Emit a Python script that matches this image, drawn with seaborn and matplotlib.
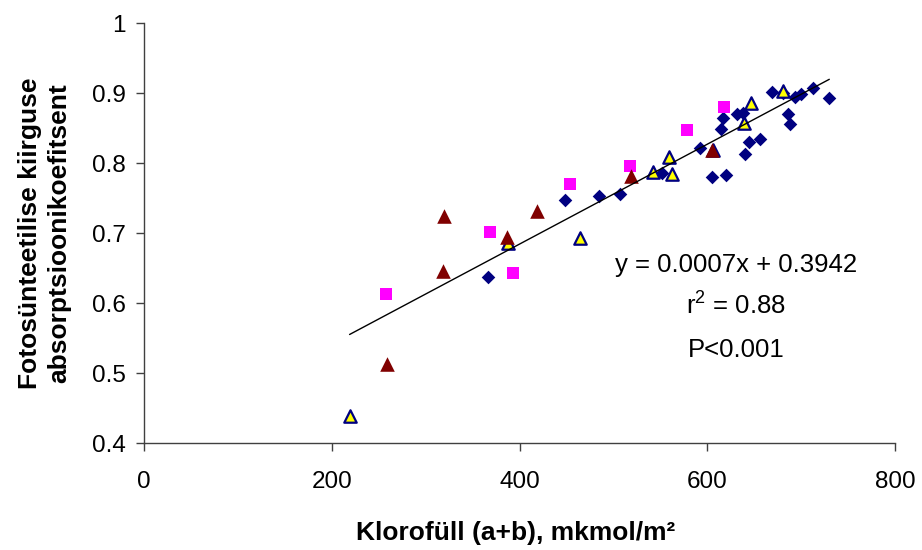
import matplotlib
matplotlib.use("Agg")
import matplotlib.pyplot as plt
import seaborn as sns
import pandas as pd
import numpy as np
from matplotlib.ticker import FuncFormatter, FixedLocator

# ---- data ----
navy_x = [366, 449, 485, 507, 552, 592, 605, 620, 615, 617, 632, 638, 640, 644, 656,
          669, 681, 686, 688, 694, 700, 713, 730]
navy_y = [0.637, 0.747, 0.753, 0.756, 0.786, 0.821, 0.780, 0.783, 0.849, 0.864, 0.870, 0.872,
          0.813, 0.830, 0.834, 0.901, 0.900, 0.870, 0.856, 0.894, 0.898, 0.907, 0.893]

yellow_x = [219, 388, 464, 542, 559, 562, 606, 639, 647, 681]
yellow_y = [0.439, 0.685, 0.693, 0.787, 0.809, 0.784, 0.818, 0.857, 0.886, 0.903]

magenta_x = [258, 369, 393, 454, 518, 578, 618]
magenta_y = [0.613, 0.701, 0.643, 0.770, 0.796, 0.847, 0.880]

maroon_x = [259, 318, 320, 387, 419, 519, 605]
maroon_y = [0.513, 0.646, 0.725, 0.694, 0.732, 0.782, 0.818]

x_ticks = [0, 200, 400, 600, 800]
y_ticks = [0.4, 0.5, 0.6, 0.7, 0.8, 0.9, 1.0]

x_label = "Klorofüll (a+b), mkmol/m²"
y_label = "Fotosünteetilise kiirguse\nabsorptsioonikoefitsent"
eq_text = "y = 0.0007x + 0.3942"
r2_text = "r$^2$ = 0.88"
p_text = "P<0.001"

# ---- style ----
sns.set_theme(style="white")
plt.rcParams["font.family"] = ["Liberation Sans", "DejaVu Sans"]
plt.rcParams["mathtext.fontset"] = "custom"
plt.rcParams["mathtext.rm"] = "Liberation Sans"
plt.rcParams["text.color"] = "black"
plt.rcParams["axes.labelcolor"] = "black"

fig = plt.figure(figsize=(9.22, 5.5), dpi=100)
ax = fig.add_axes([144 / 922, 1 - 443 / 550, 751 / 922, 420 / 550])

df_navy = pd.DataFrame({"x": navy_x, "y": navy_y})
df_yellow = pd.DataFrame({"x": yellow_x, "y": yellow_y})
df_mag = pd.DataFrame({"x": magenta_x, "y": magenta_y})
df_mar = pd.DataFrame({"x": maroon_x, "y": maroon_y})
df_all = pd.concat([df_navy, df_yellow, df_mag, df_mar], ignore_index=True)

sns.scatterplot(data=df_navy, x="x", y="y", ax=ax, marker="D", s=48,
                color="#000080", edgecolor="#000080", linewidth=0, zorder=3)
sns.scatterplot(data=df_yellow, x="x", y="y", ax=ax, marker="^", s=80,
                color="#FFFF00", edgecolor="#000080", linewidth=1.6, zorder=4)
sns.scatterplot(data=df_mag, x="x", y="y", ax=ax, marker="s", s=75,
                color="#FF00FF", edgecolor="#FF00FF", linewidth=0, zorder=5)
sns.scatterplot(data=df_mar, x="x", y="y", ax=ax, marker="^", s=110,
                color="#800000", edgecolor="#800000", linewidth=0, zorder=6)

sns.regplot(data=df_all, x="x", y="y", ax=ax, scatter=False, ci=None,
            line_kws=dict(color="black", linewidth=1.0, zorder=7))

# ---- axes ----
ax.set_xlim(0, 800)
ax.set_ylim(0.4, 1.0)
ax.xaxis.set_major_locator(FixedLocator(x_ticks))
ax.yaxis.set_major_locator(FixedLocator(y_ticks))
ax.yaxis.set_major_formatter(FuncFormatter(lambda v, p: f"{v:g}"))
ax.xaxis.set_major_formatter(FuncFormatter(lambda v, p: f"{v:g}"))

for side in ["top", "right"]:
    ax.spines[side].set_visible(False)
for side in ["left", "bottom"]:
    ax.spines[side].set_color("#404040")
    ax.spines[side].set_linewidth(1.0)

ax.tick_params(axis="x", direction="out", length=6, width=1, color="#404040",
               labelsize=17.5, pad=14, bottom=True, labelcolor="black")
ax.tick_params(axis="y", direction="out", length=6, width=1, color="#404040",
               labelsize=17.5, pad=7, left=True, labelcolor="black")

ax.set_xlabel(x_label, fontsize=19, fontweight="bold", color="black")
ax.set_ylabel(y_label, fontsize=19, fontweight="bold", linespacing=1.25, color="black")
ax.xaxis.set_label_coords(0.495, -0.185)
ax.yaxis.set_label_coords(-0.097, 0.5)

# ---- annotations ----
ax.text(631, 0.654, eq_text, ha="center", va="center", fontsize=18.5, color="black")
ax.text(631, 0.597, r2_text, ha="center", va="center", fontsize=18.5, color="black")
ax.text(631, 0.533, p_text, ha="center", va="center", fontsize=18.5, color="black")

fig.savefig("out.png", dpi=100)
